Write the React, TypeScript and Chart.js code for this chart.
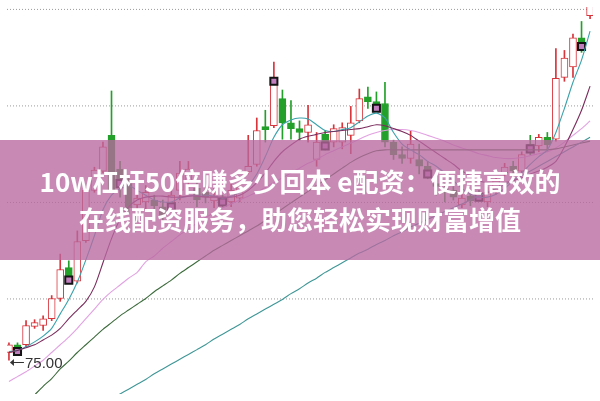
import React, { useEffect, useRef } from "react";
import { Chart, registerables } from "chart.js";

Chart.register(...registerables);

// Candles (price), index 0..68
const opens = [
  75.40, 75.80, 75.80, 76.75, 76.80, 77.15, 78.20, 79.80, 79.10, 81.20,
  83.80, 84.80, 86.65, 84.90, 84.15, 83.05, 83.20, 83.30, 82.95, 83.05,
  83.80, 84.30, 83.90, 83.70, 83.25, 83.45, 83.20, 83.40, 84.75, 85.15,
  87.10, 87.15, 88.55, 87.30, 87.00, 86.80, 85.40, 86.70, 86.30, 86.30,
  86.65, 87.40, 88.65, 88.40, 88.30, 86.30, 85.65, 85.45, 85.40, 85.05,
  84.15, 83.90, 83.80, 83.05, 83.50, 83.65, 83.20, 83.80, 84.70, 85.05,
  84.80, 86.20, 86.10, 86.55, 86.45, 89.65, 90.20, 91.70, 92.85,
];
const highs = [
  75.90, 75.90, 77.05, 77.10, 77.30, 78.35, 80.50, 80.15, 81.70, 83.95,
  85.00, 86.30, 88.95, 85.30, 84.45, 83.70, 84.05, 83.55, 83.30, 83.90,
  85.30, 85.30, 84.20, 84.00, 83.90, 83.55, 84.15, 84.20, 86.65, 87.55,
  87.95, 90.45, 89.00, 88.45, 87.40, 88.20, 86.80, 86.90, 87.20, 87.30,
  88.15, 89.05, 89.15, 88.90, 89.40, 86.40, 86.05, 86.90, 86.20, 85.30,
  84.45, 84.15, 84.00, 83.60, 83.75, 83.80, 83.95, 84.50, 85.20, 85.30,
  85.80, 86.65, 86.70, 86.80, 91.15, 91.05, 91.90, 92.55, 93.80,
];
const lows = [
  75.00, 75.30, 75.70, 76.65, 76.55, 77.05, 78.05, 79.05, 79.00, 81.10,
  83.70, 84.70, 83.70, 83.45, 82.65, 82.70, 82.80, 82.70, 82.20, 82.80,
  83.30, 83.90, 82.95, 83.15, 82.90, 82.95, 82.95, 83.20, 84.65, 85.05,
  86.30, 87.05, 86.45, 86.45, 86.40, 86.30, 85.05, 85.90, 86.05, 85.95,
  85.70, 87.30, 88.05, 87.90, 86.05, 85.40, 85.20, 85.20, 84.65, 84.40,
  83.55, 83.20, 83.30, 82.90, 83.00, 83.30, 82.95, 83.60, 84.55, 84.60,
  84.70, 85.65, 85.80, 85.80, 86.35, 89.45, 89.65, 90.95, 92.70,
];
const closes = [
  75.80, 75.55, 76.80, 76.95, 77.15, 78.20, 79.70, 79.30, 81.15, 83.80,
  84.85, 86.05, 83.80, 84.30, 82.90, 83.40, 83.70, 83.00, 82.45, 83.55,
  84.70, 84.90, 83.30, 83.45, 83.50, 83.30, 83.80, 83.95, 85.05, 86.90,
  86.95, 89.30, 87.30, 87.00, 86.80, 87.20, 86.30, 86.30, 87.00, 87.05,
  87.30, 88.55, 88.40, 88.20, 86.30, 85.65, 85.45, 86.20, 85.05, 84.80,
  84.00, 83.70, 83.45, 83.40, 83.25, 83.50, 83.70, 84.30, 85.00, 84.80,
  85.65, 86.05, 86.55, 86.15, 89.60, 90.65, 91.70, 91.45, 93.45,
];

// Moving averages
const ma5 = [
  75.45, 75.50, 75.70, 75.95, 76.25, 76.65, 77.40, 78.15, 79.05, 80.20,
  81.45, 82.80, 83.55, 83.90, 84.05, 83.80, 83.55, 83.30, 83.20, 83.20,
  83.40, 83.50, 83.55, 83.55, 83.50, 83.40, 83.50, 83.70, 84.05, 84.65,
  85.55, 86.55, 87.20, 87.45, 87.55, 87.50, 87.20, 86.90, 86.85, 86.95,
  87.05, 87.35, 87.65, 87.80, 87.55, 86.80, 86.20, 85.90, 85.65, 85.30,
  85.05, 84.70, 84.30, 83.90, 83.60, 83.45, 83.45, 83.60, 83.90, 84.30,
  84.70, 85.15, 85.55, 85.90, 86.80, 88.05, 89.40, 90.55, 92.05,
];
const ma10 = [
  75.40, 75.50, 75.65, 75.80, 76.05, 76.30, 76.65, 77.15, 77.60, 78.05,
  78.80, 80.05, 81.30, 82.30, 82.95, 83.30, 83.45, 83.50, 83.50, 83.45,
  83.45, 83.50, 83.50, 83.45, 83.45, 83.45, 83.45, 83.55, 83.80, 84.20,
  84.70, 85.30, 85.80, 86.15, 86.45, 86.60, 86.70, 86.80, 86.85, 86.90,
  86.95, 87.00, 87.10, 87.20, 87.15, 87.00, 86.85, 86.65, 86.35, 86.05,
  85.75, 85.45, 85.15, 84.80, 84.55, 84.30, 84.20, 84.15, 84.20, 84.30,
  84.45, 84.65, 84.80, 85.00, 85.30, 86.05, 86.95, 87.95, 89.20,
];
const ma20 = [
  73.90, 74.15, 74.40, 74.70, 75.00, 75.40, 75.80, 76.20, 76.65, 77.15,
  77.65, 78.15, 78.55, 78.90, 79.25, 79.55, 80.10, 80.40, 80.80, 81.15,
  81.50, 81.80, 82.10, 82.40, 82.65, 82.90, 83.10, 83.30, 83.50, 83.70,
  83.95, 84.20, 84.45, 84.70, 84.95, 85.20, 85.40, 85.65, 85.85, 86.05,
  86.25, 86.45, 86.65, 86.80, 86.90, 86.95, 86.95, 86.90, 86.80, 86.65,
  86.50, 86.35, 86.15, 86.00, 85.85, 85.70, 85.60, 85.50, 85.45, 85.45,
  85.50, 85.60, 85.70, 85.80, 86.00, 86.30, 86.65, 87.00, 87.40,
];
const ma60 = [
  71.80, 72.30, 72.75, 73.20, 73.65, 74.05, 74.55, 74.95, 75.40, 75.80,
  76.20, 76.60, 76.95, 77.30, 77.60, 77.90, 78.20, 78.55, 78.85, 79.15,
  79.50, 79.80, 80.10, 80.40, 80.70, 80.95, 81.20, 81.45, 81.70, 81.95,
  82.25, 82.55, 82.85, 83.15, 83.45, 83.75, 84.05, 84.35, 84.65, 84.95,
  85.25, 85.50, 85.70, 85.85, 85.90, 85.90, 85.90, 85.90, 85.90, 85.90,
  85.90, 85.90, 85.90, 85.90, 85.90, 85.90, 85.90, 85.90, 85.90, 85.90,
  85.90, 85.90, 85.90, 85.90, 85.95, 86.05, 86.15, 86.25, 86.35,
];
const ma120 = [
  null, null, null, null, null, null, null, null, null, null,
  72.45, 72.70, 73.00, 73.25, 73.50, 73.75, 74.00, 74.30, 74.55, 74.80,
  75.05, 75.30, 75.55, 75.80, 76.10, 76.35, 76.60, 76.85, 77.15, 77.40,
  77.65, 77.90, 78.15, 78.45, 78.70, 79.00, 79.25, 79.55, 79.80, 80.05,
  80.30, 80.55, 80.75, 81.00, 81.20, 81.45, 81.65, 81.90, 82.10, 82.30,
  82.50, 82.70, 82.90, 83.10, 83.30, 83.50, 83.70, 83.90, 84.10, 84.30,
  84.55, 84.80, 85.05, 85.30, 85.55, 85.80, 86.05, 86.30, 86.55,
];

// Signal markers
const markerIdx = [1, 7, 13, 19, 25, 31, 37, 43, 49, 55, 61, 67];
const markerVals = [75.45, 79.15, 84.15, 82.95, 83.20, 89.45, 86.10, 88.05, 84.65, 83.45, 85.95, 91.25];

// Dotted horizontal grid levels
const gridValues = [78.175, 83.175, 88.175, 93.175];

const lowIndex = 0;
const lowLabel = "75.00";
const titleLines = ["10w杠杆50倍赚多少回本 e配资：便捷高效的", "在线配资服务，助您轻松实现财富增值"];

const X_MIN = -0.2286;
const X_MAX = 68.3428;
const Y_MIN = 73.25;
const Y_MAX = 93.3;

const RED = "#d7343c";
const GREEN = "#22a02a";

export default function App() {
  const ref = useRef<HTMLCanvasElement | null>(null);

  useEffect(() => {
    const canvas = ref.current;
    if (!canvas) return;
    const idx = opens.map((_, i) => i);
    const up = idx.map((i) => closes[i] >= opens[i]);

    const gridPlugin = {
      id: "dottedGrid",
      beforeDatasetsDraw(chart: any) {
        const { ctx, chartArea } = chart;
        const ys = chart.scales.y;
        ctx.save();
        ctx.strokeStyle = "#9a9a9a";
        ctx.lineWidth = 1;
        ctx.setLineDash([1, 2]);
        gridValues.forEach((v) => {
          const y = ys.getPixelForValue(v);
          ctx.beginPath();
          ctx.moveTo(chartArea.left, y);
          ctx.lineTo(chartArea.right, y);
          ctx.stroke();
        });
        ctx.restore();
      },
    };

    const labelPlugin = {
      id: "lowLabel",
      afterDatasetsDraw(chart: any) {
        const { ctx } = chart;
        const x0 = chart.scales.x.getPixelForValue(lowIndex);
        const y0 = Math.round(chart.scales.y.getPixelForValue(lows[lowIndex])) + 2;
        ctx.save();
        ctx.strokeStyle = "#333";
        ctx.fillStyle = "#333";
        ctx.lineWidth = 1;
        ctx.beginPath();
        ctx.moveTo(x0 + 2, y0 + 0.5);
        ctx.lineTo(x0 + 15, y0 + 0.5);
        ctx.stroke();
        ctx.beginPath();
        ctx.moveTo(x0 + 1, y0 + 0.5);
        ctx.lineTo(x0 + 5, y0 - 3);
        ctx.lineTo(x0 + 5, y0 + 4);
        ctx.closePath();
        ctx.fill();
        ctx.font = "15px 'Liberation Sans', Arial, sans-serif";
        ctx.textBaseline = "alphabetic";
        ctx.fillText(lowLabel, x0 + 16, y0 + 6);
        ctx.restore();
      },
    };

    const line = (data: (number | null)[], color: string, order: number, width = 1.1) => ({
      type: "line" as const,
      data: data.map((y, i) => ({ x: i, y })),
      borderColor: color,
      borderWidth: width,
      pointRadius: 0,
      tension: 0.25,
      fill: false,
      order,
    });

    const chart = new Chart(canvas, {
      type: "bar",
      data: {
        datasets: [
          line(ma120, "#3f9696", 2),
          line(ma60, "#3b6a3b", 2),
          line(ma20, "#e2a2e2", 2),
          line(ma10, "#7a2b5c", 1),
          line(ma5, "#3aa2ab", 1),
          {
            type: "line",
            data: markerIdx.map((x, k) => ({ x, y: markerVals[k] })),
            showLine: false,
            pointStyle: "rect",
            pointRadius: 5,
            pointBackgroundColor: "#c27fbf",
            pointBorderColor: "#141414",
            pointBorderWidth: 2,
            order: 3,
          } as any,
          {
            type: "bar",
            data: idx.map((i) => ({ x: i, y: [opens[i], closes[i]] })),
            backgroundColor: idx.map((i) => (up[i] ? "#ffffff" : GREEN)),
            borderColor: idx.map((i) => (up[i] ? RED : GREEN)),
            borderWidth: 1,
            borderSkipped: false,
            barThickness: 7,
            grouped: false,
            order: 4,
          } as any,
          {
            type: "bar",
            data: idx.map((i) => ({ x: i, y: [lows[i], highs[i]] })),
            backgroundColor: idx.map((i) => (up[i] ? RED : GREEN)),
            borderWidth: 0,
            barThickness: 1,
            grouped: false,
            order: 5,
          } as any,
        ],
      },
      options: {
        animation: false,
        responsive: false,
        events: [],
        layout: { padding: 0 },
        plugins: { legend: { display: false }, tooltip: { enabled: false } },
        scales: {
          x: { type: "linear", min: X_MIN, max: X_MAX, offset: false, display: false },
          y: { type: "linear", min: Y_MIN, max: Y_MAX, display: false },
        },
      } as any,
      plugins: [gridPlugin, labelPlugin],
    });
    return () => chart.destroy();
  }, []);

  return (
    <div
      style={{
        position: "fixed",
        left: 0,
        top: 0,
        width: 600,
        height: 401,
        overflow: "hidden",
        background: "#ffffff",
      }}
    >
      <canvas ref={ref} width={600} height={401} style={{ display: "block", width: 600, height: 401 }} />
      <div
        style={{
          position: "absolute",
          left: 0,
          top: 140,
          width: 600,
          height: 120,
          background: "rgba(185,105,160,0.78)",
        }}
      />
      <div
        style={{
          position: "absolute",
          left: 0,
          top: 162,
          width: 600,
          textAlign: "center",
          color: "#ffffff",
          fontFamily: '"Noto Sans CJK SC", "Noto Sans", sans-serif',
          fontWeight: 700,
          fontSize: 26,
          lineHeight: "38px",
          whiteSpace: "nowrap",
        }}
      >
        {titleLines.map((t) => (
          <div key={t}>{t}</div>
        ))}
      </div>
    </div>
  );
}
